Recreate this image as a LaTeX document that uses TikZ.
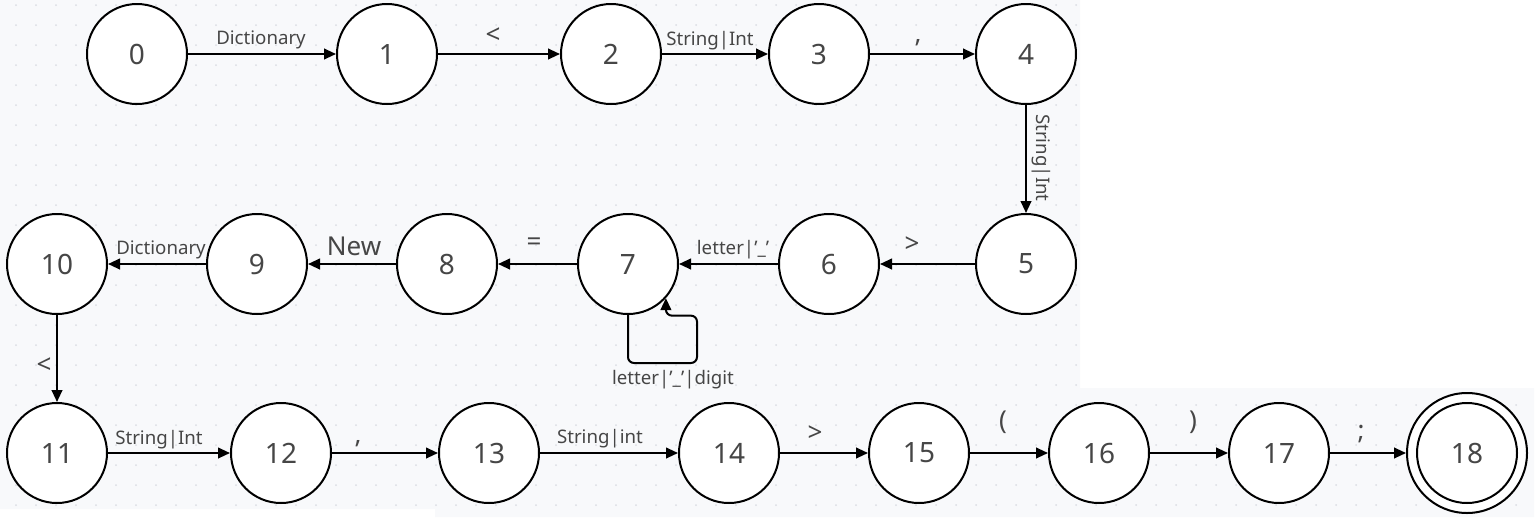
\documentclass[tikz,border=0pt]{standalone}
\usepackage{fontspec}
\setmainfont{Noto Sans}
\usetikzlibrary{arrows.meta,calc}

\definecolor{bggray}{RGB}{248,249,251}
\definecolor{dotgray}{RGB}{218,221,227}
\definecolor{txtgray}{RGB}{70,70,70}

\tikzset{
  state/.style={circle,draw=black,line width=1.5pt,fill=white,minimum size=75pt,inner sep=0pt,text=txtgray,font=\fontsize{21}{23}\selectfont},
  final/.style={state,minimum size=90pt},
  edge/.style={line width=1.5pt,-{Triangle[length=9pt,width=8pt]}},
  lbl/.style={inner sep=0.75pt,text=txtgray,font=\fontsize{14}{16}\selectfont},
  sym/.style={inner sep=0.75pt,text=txtgray,font=\fontsize{19.5}{21}\selectfont},
}

\begin{document}
\begin{tikzpicture}[x=0.75pt,y=0.75pt,yscale=-1,xscale=1]
\useasboundingbox (0,0) rectangle (1536,522);

%Shape: canvas with dot grid
\fill[bggray] (0,0) -- (1080,0) -- (1080,388) -- (1534,388) -- (1534,517) -- (435,517) -- (435,509) -- (0,509) -- cycle;
\begin{scope}
\clip (0,0) -- (1080,0) -- (1080,388) -- (1534,388) -- (1534,517) -- (435,517) -- (435,509) -- (0,509) -- cycle;
\foreach \i in {0,...,76}
  \foreach \j in {0,...,25}
    \fill[dotgray] (16+20*\i,5+20*\j) circle [radius=1];
\end{scope}

%States
\node[state] (n0) at (137,54) {0};
\node[state] (n1) at (387,54) {1};
\node[state] (n2) at (611,54) {2};
\node[state] (n3) at (819,54) {3};
\node[state] (n4) at (1026,54) {4};
\node[state] (n5) at (1026,264) {5};
\node[state] (n6) at (829,264) {6};
\node[state] (n7) at (628,264) {7};
\node[state] (n8) at (447,264) {8};
\node[state] (n9) at (257,264) {9};
\node[state] (n10) at (57,264) {10};
\node[state] (n11) at (57,453) {11};
\node[state] (n12) at (281,453) {12};
\node[state] (n13) at (489,453) {13};
\node[state] (n14) at (729,453) {14};
\node[state] (n15) at (919,453) {15};
\node[state] (n16) at (1099,453) {16};
\node[state] (n17) at (1279,453) {17};
\node[final] (n18) at (1467,453) {18};
\draw[line width=1.5pt] (n18) circle [radius=50];

%Straight Lines
\draw[edge] (n0) -- (n1);
\draw[edge] (n1) -- (n2);
\draw[edge] (n2) -- (n3);
\draw[edge] (n3) -- (n4);
\draw[edge] (n4) -- (n5);
\draw[edge] (n5) -- (n6);
\draw[edge] (n6) -- (n7);
\draw[edge] (n7) -- (n8);
\draw[edge] (n8) -- (n9);
\draw[edge] (n9) -- (n10);
\draw[edge] (n10) -- (n11);
\draw[edge] (n11) -- (n12);
\draw[edge] (n12) -- (n13);
\draw[edge] (n13) -- (n14);
\draw[edge] (n14) -- (n15);
\draw[edge] (n15) -- (n16);
\draw[edge] (n16) -- (n17);
\draw[edge] (n17) -- (n18);
%Loop on 7
\draw[edge,rounded corners=4.5pt] (n7.south) -- ++(0,48) -- ++(69,0) |- ($(n7.-42)+(0,17.5)$) -- (n7.-42);

% Text Node
\node[lbl] (l01) at (261,40) {Dictionary};
\node[sym] (l12) at (493,36) {<};
\node[lbl] (l23) at (710,41) {String|Int};
\node[sym] (l34) at (918,43) {,};
\node[lbl,rotate=-90] (l45) at (1041,158) {String|Int};
\node[sym] (l56) at (912,245) {>};
\node[lbl] (l67) at (733,250) {letter|'\_'};
\node[sym] (l78) at (534,244) {=};
\node[sym] (l89) at (354,246) {New};
\node[lbl] (l910) at (161,250) {Dictionary};
\node[sym] (l1011) at (44,366) {<};
\node[lbl] (l77) at (673,380) {letter|'\_'|digit};
\node[lbl] (l1112) at (159,440) {String|Int};
\node[sym] (l1213) at (358,444) {,};
\node[lbl] (l1314) at (600,439) {String|int};
\node[sym] (l1415) at (815,434) {>};
\node[sym] (l1516) at (1003,422) {(};
\node[sym] (l1617) at (1193,422) {)};
\node[sym] (l1718) at (1361,434) {;};

\end{tikzpicture}
\end{document}
